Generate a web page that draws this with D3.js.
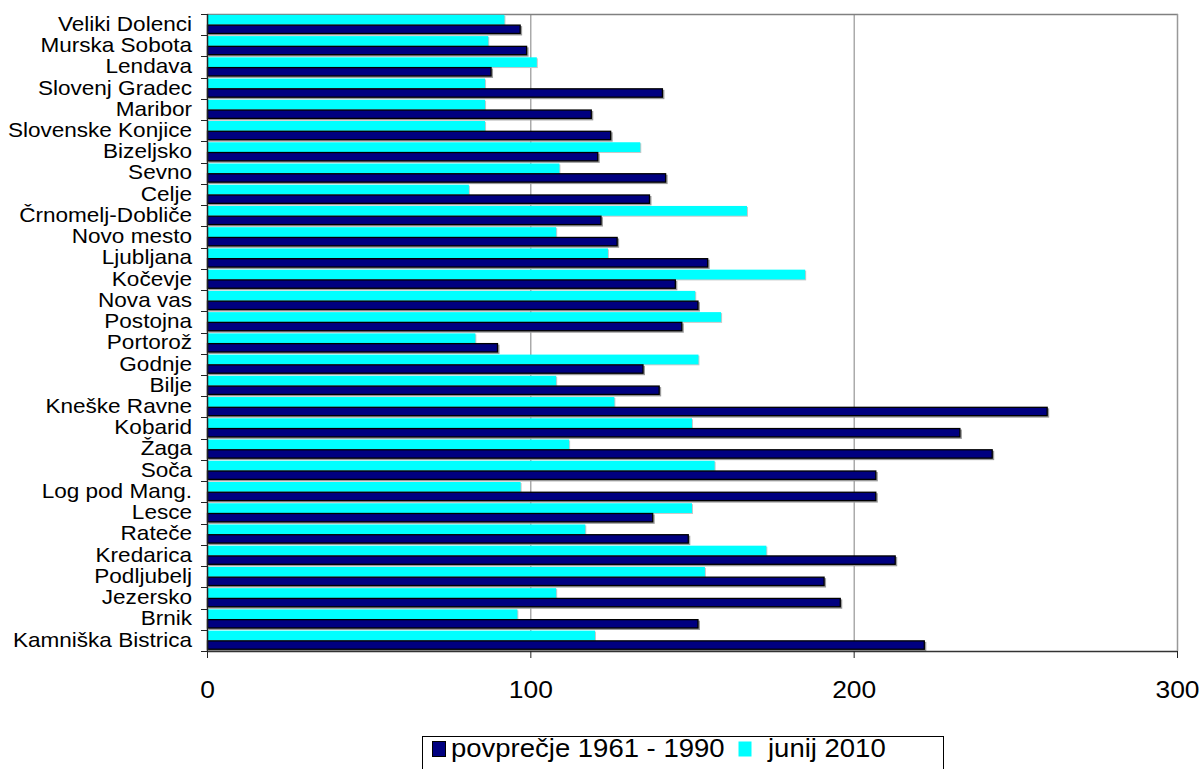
<!DOCTYPE html>
<html>
<head>
<meta charset="utf-8">
<script src="https://cdn.jsdelivr.net/npm/d3@7/dist/d3.min.js"></script>
<style>
  html, body { margin: 0; padding: 0; background: #ffffff; }
  svg { display: block; }
  text { font-family: "Liberation Sans", Arial, sans-serif; fill: #000; }
</style>
</head>
<body>
<svg id="chart" width="1203" height="769"></svg>
<script>
const categories = [
  "Veliki Dolenci", "Murska Sobota", "Lendava", "Slovenj Gradec", "Maribor",
  "Slovenske Konjice", "Bizeljsko", "Sevno", "Celje", "Črnomelj-Dobliče",
  "Novo mesto", "Ljubljana", "Kočevje", "Nova vas", "Postojna",
  "Portorož", "Godnje", "Bilje", "Kneške Ravne", "Kobarid",
  "Žaga", "Soča", "Log pod Mang.", "Lesce", "Rateče",
  "Kredarica", "Podljubelj", "Jezersko", "Brnik", "Kamniška Bistrica"
];
const povprecje = [
  97, 99, 88, 141, 119,
  125, 121, 142, 137, 122,
  127, 155, 145, 152, 147,
  90, 135, 140, 260, 233,
  243, 207, 207, 138, 149,
  213, 191, 196, 152, 222
];
const junij = [
  92, 87, 102, 86, 86,
  86, 134, 109, 81, 167,
  108, 124, 185, 151, 159,
  83, 152, 108, 126, 150,
  112, 157, 97, 150, 117,
  173, 154, 108, 96, 120
];
const xTicks = [0, 100, 200, 300];
const seriesNames = ["povprečje 1961 - 1990", "junij 2010"];
const seriesColors = ["#000080", "#00FFFF"];

(function () {
const svg = d3.select("#chart");
const pL = 207, pR = 1177, pT = 14, pB = 651;
const sx = 1.1;

const x = d3.scaleLinear().domain([0, 300]).range([pL, pR]);
const y = d3.scaleBand().domain(categories).range([pT, pB]).paddingInner(0).paddingOuter(0);
const bw = y.bandwidth();

svg.append("g").selectAll("line").data(xTicks.slice(1)).join("line")
  .attr("x1", d => x(d) + 0.5).attr("x2", d => x(d) + 0.5)
  .attr("y1", pT).attr("y2", pB)
  .attr("stroke", "#808080").attr("stroke-width", 1);
svg.append("line").attr("x1", pL).attr("x2", pR + 1).attr("y1", pT + 0.5).attr("y2", pT + 0.5)
  .attr("stroke", "#808080").attr("stroke-width", 1.5);

const rows = svg.append("g").selectAll("g").data(categories).join("g")
  .attr("transform", d => `translate(0,${y(d)})`);

const hCyan = bw * 0.46, hNavy = bw * 0.44;
const yCyan = bw * 0.04, yNavy = yCyan + hCyan;

rows.append("rect")
  .attr("x", pL + 1).attr("y", yCyan + 1)
  .attr("width", (d, i) => Math.max(0, x(junij[i]) - pL))
  .attr("height", hCyan).attr("fill", "#c8c8c8");
rows.append("rect")
  .attr("x", pL).attr("y", yCyan)
  .attr("width", (d, i) => x(junij[i]) - pL)
  .attr("height", hCyan).attr("fill", seriesColors[1]);

rows.append("rect")
  .attr("x", pL + 1.5).attr("y", yNavy + 1.5)
  .attr("width", (d, i) => x(povprecje[i]) - pL)
  .attr("height", hNavy).attr("fill", "#9a9a9a");
rows.append("rect")
  .attr("x", pL + 0.5).attr("y", yNavy + 0.5)
  .attr("width", (d, i) => x(povprecje[i]) - pL - 1)
  .attr("height", hNavy - 1)
  .attr("fill", seriesColors[0]).attr("stroke", "#000").attr("stroke-width", 1.3);

const yAxisG = svg.append("g");
yAxisG.append("line").attr("x1", pL + 0.5).attr("x2", pL + 0.5).attr("y1", pT).attr("y2", pB + 1)
  .attr("stroke", "#222").attr("stroke-width", 1.5);
const boundaries = categories.map(c => y(c)).concat([pB]);
yAxisG.selectAll("line.tick").data(boundaries).join("line").attr("class", "tick")
  .attr("x1", pL - 6).attr("x2", pL).attr("y1", d => Math.round(d) + 0.5).attr("y2", d => Math.round(d) + 0.5)
  .attr("stroke", "#222").attr("stroke-width", 1);
yAxisG.selectAll("g.lab").data(categories).join("g").attr("class", "lab")
  .attr("transform", d => `translate(192,${y(d) + bw / 2 + 6.2}) scale(${sx},1)`)
  .append("text").attr("text-anchor", "end").attr("font-size", 20.5).text(d => d);

const xAxis = d3.axisBottom(x).tickValues(xTicks).tickSize(7).tickPadding(10).tickFormat(d3.format("d"));
const xg = svg.append("g").attr("transform", `translate(0,${pB})`).call(xAxis);
xg.select(".domain").attr("stroke", "#333").attr("stroke-width", 1.5).attr("d", `M${pL},0.5H${pR + 1}`);
xg.selectAll(".tick line").attr("stroke", "#222");
xg.selectAll(".tick text").attr("font-size", 24).attr("y", 47).attr("dy", null)
  .attr("transform", `scale(${sx},1)`).attr("x", 0)
  .attr("font-family", '"Liberation Sans", Arial, sans-serif').attr("fill", "#000");

svg.append("line").attr("x1", pR + 0.5).attr("x2", pR + 0.5).attr("y1", pT).attr("y2", pB)
  .attr("stroke", "#999").attr("stroke-width", 1.5);

const lg = svg.append("g");
lg.append("rect").attr("x", 422.5).attr("y", 736.5).attr("width", 521).attr("height", 60)
  .attr("fill", "#fff").attr("stroke", "#000").attr("stroke-width", 1);
const legItems = [
  { sq: 432, tx: 451 },
  { sq: 738, tx: 768 }
];
seriesNames.forEach((name, i) => {
  lg.append("rect").attr("x", legItems[i].sq + 0.5).attr("y", 741.5).attr("width", 13).attr("height", 15)
    .attr("fill", seriesColors[i]).attr("stroke", i === 0 ? "#000" : "none").attr("stroke-width", 1);
  lg.append("g").attr("transform", `translate(${legItems[i].tx},757) scale(1.1,1)`)
    .append("text").attr("font-size", 25).text(name);
});
})();
</script>
</body>
</html>
